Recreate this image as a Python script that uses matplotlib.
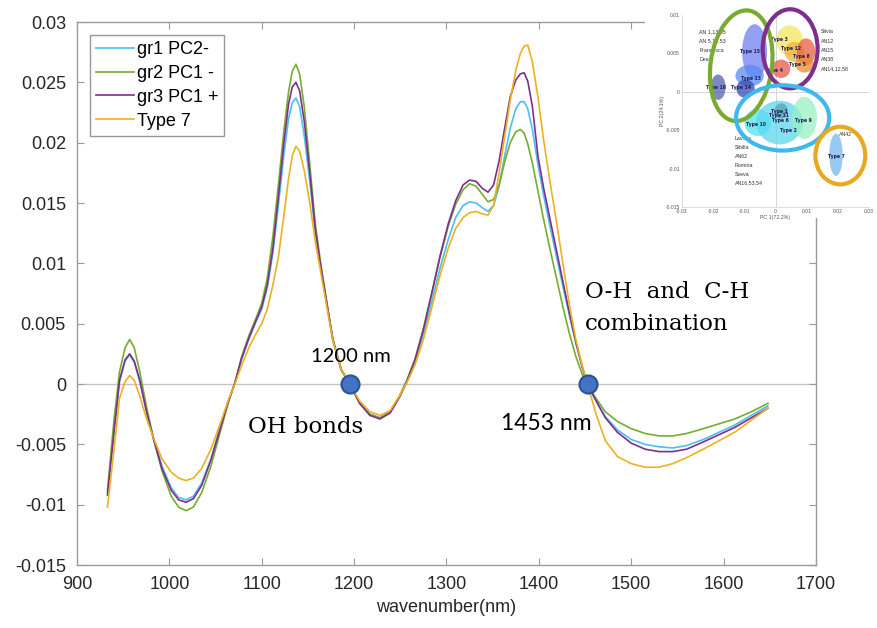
import matplotlib
matplotlib.use('Agg')
import matplotlib.pyplot as plt
from matplotlib.patches import Ellipse
from matplotlib.font_manager import fontManager

# ==========================================
# Datos: espectros (segunda derivada) por grupo
# ==========================================
wl = [933, 940, 946, 952, 957, 962, 968, 975, 983, 992,
      1002, 1010, 1018, 1026, 1035, 1045, 1055, 1064, 1071, 1078,
      1086, 1094, 1100, 1106, 1112, 1118, 1124, 1129, 1133, 1137,
      1141, 1146, 1152, 1158, 1164, 1170, 1177, 1186, 1196, 1206,
      1217, 1228, 1239, 1249, 1257, 1266, 1275, 1284, 1293, 1302,
      1310, 1318, 1325, 1332, 1339, 1345, 1351, 1357, 1363, 1369,
      1375, 1380, 1384, 1388, 1393, 1399, 1405, 1412, 1419, 1426,
      1433, 1440, 1447, 1453, 1462, 1472, 1485, 1500, 1515, 1530,
      1545, 1560, 1578, 1595, 1612, 1630, 1648]

gr1 = [-0.0090, -0.0040, 0.0002, 0.0019, 0.0024, 0.0018, 0.0002, -0.0022, -0.0045, -0.0068,
       -0.0086, -0.0094, -0.0096, -0.0093, -0.0082, -0.0062, -0.0036, -0.0014, 0.0001, 0.0020,
       0.0037, 0.0052, 0.0062, 0.0080, 0.0108, 0.0148, 0.0190, 0.0220, 0.0233, 0.0237,
       0.0230, 0.0206, 0.0168, 0.0125, 0.0096, 0.0068, 0.0036, 0.0012, -0.0001, -0.0015,
       -0.0025, -0.0028, -0.0023, -0.0011, 0.0001, 0.0018, 0.0041, 0.0068, 0.0096, 0.0120,
       0.0138, 0.0148, 0.0151, 0.0150, 0.0146, 0.0143, 0.0148, 0.0164, 0.0189, 0.0212,
       0.0228, 0.0234, 0.0234, 0.0228, 0.0211, 0.0182, 0.0157, 0.0131, 0.0106, 0.0081,
       0.0057, 0.0034, 0.0014, -0.0001, -0.0014, -0.0027, -0.0038, -0.0046, -0.0050, -0.0052,
       -0.0053, -0.0051, -0.0046, -0.0040, -0.0034, -0.0026, -0.0018]

gr2 = [-0.0088, -0.0030, 0.0010, 0.0030, 0.0037, 0.0030, 0.0010, -0.0018, -0.0046, -0.0072,
       -0.0093, -0.0102, -0.0105, -0.0102, -0.0090, -0.0068, -0.0040, -0.0015, 0.0001, 0.0022,
       0.0040, 0.0055, 0.0067, 0.0088, 0.0122, 0.0165, 0.0210, 0.0242, 0.0259, 0.0265,
       0.0257, 0.0230, 0.0182, 0.0133, 0.0099, 0.0070, 0.0037, 0.0012, -0.0001, -0.0016,
       -0.0025, -0.0028, -0.0023, -0.0010, 0.0003, 0.0021, 0.0046, 0.0075, 0.0105, 0.0131,
       0.0149, 0.0161, 0.0166, 0.0164, 0.0157, 0.0151, 0.0153, 0.0165, 0.0184, 0.0200,
       0.0209, 0.0211, 0.0208, 0.0199, 0.0183, 0.0160, 0.0137, 0.0112, 0.0088, 0.0064,
       0.0042, 0.0023, 0.0008, -0.0001, -0.0012, -0.0023, -0.0031, -0.0037, -0.0041, -0.0043,
       -0.0043, -0.0041, -0.0037, -0.0033, -0.0029, -0.0023, -0.0016]

gr3 = [-0.0092, -0.0040, 0.0003, 0.0020, 0.0025, 0.0019, 0.0003, -0.0022, -0.0046, -0.0070,
       -0.0088, -0.0096, -0.0098, -0.0095, -0.0084, -0.0063, -0.0037, -0.0014, 0.0001, 0.0021,
       0.0038, 0.0053, 0.0064, 0.0082, 0.0112, 0.0155, 0.0200, 0.0232, 0.0246, 0.0250,
       0.0243, 0.0218, 0.0175, 0.0128, 0.0097, 0.0069, 0.0037, 0.0012, -0.0001, -0.0016,
       -0.0026, -0.0029, -0.0024, -0.0011, 0.0002, 0.0020, 0.0045, 0.0075, 0.0106, 0.0133,
       0.0152, 0.0165, 0.0169, 0.0168, 0.0162, 0.0159, 0.0165, 0.0185, 0.0212, 0.0238,
       0.0252, 0.0257, 0.0258, 0.0251, 0.0230, 0.0189, 0.0163, 0.0137, 0.0111, 0.0085,
       0.0059, 0.0035, 0.0014, -0.0001, -0.0014, -0.0028, -0.0040, -0.0049, -0.0054, -0.0056,
       -0.0056, -0.0054, -0.0048, -0.0042, -0.0036, -0.0028, -0.0020]

type7 = [-0.0102, -0.0055, -0.0012, 0.0002, 0.0007, 0.0003, -0.0010, -0.0028, -0.0045, -0.0062,
         -0.0073, -0.0078, -0.0080, -0.0078, -0.0070, -0.0054, -0.0033, -0.0013, 0.0000, 0.0015,
         0.0030, 0.0042, 0.0050, 0.0062, 0.0082, 0.0105, 0.0140, 0.0170, 0.0189, 0.0197,
         0.0193, 0.0177, 0.0150, 0.0118, 0.0092, 0.0066, 0.0036, 0.0012, -0.0001, -0.0014,
         -0.0023, -0.0026, -0.0022, -0.0010, 0.0001, 0.0016, 0.0037, 0.0063, 0.0090, 0.0113,
         0.0129, 0.0138, 0.0142, 0.0143, 0.0141, 0.0140, 0.0148, 0.0175, 0.0205, 0.0235,
         0.0260, 0.0274, 0.0280, 0.0281, 0.0267, 0.0238, 0.0203, 0.0168, 0.0135, 0.0100,
         0.0066, 0.0037, 0.0015, -0.0001, -0.0025, -0.0047, -0.0060, -0.0066, -0.0069, -0.0069,
         -0.0066, -0.0061, -0.0054, -0.0047, -0.0040, -0.0030, -0.0020]

series_names = ['gr1 PC2-', 'gr2 PC1 -', 'gr3 PC1 +', 'Type 7']
series_data = [gr1, gr2, gr3, type7]
series_colors = ['#4dbeee', '#77ac30', '#7e2f8e', '#edb120']

# puntos marcados
mark_wl = [1196, 1453]
mark_val = [0.0, 0.0]

xticks = [900, 1000, 1100, 1200, 1300, 1400, 1500, 1600, 1700]
yticks = [-0.015, -0.01, -0.005, 0, 0.005, 0.01, 0.015, 0.02, 0.025, 0.03]
ytick_labels = ['-0.015', '-0.01', '-0.005', '0', '0.005', '0.01', '0.015', '0.02', '0.025', '0.03']

# ==========================================
# Datos del inserto (PCA)
# ==========================================
blob_x = [-0.0184, -0.0067, -0.0083, -0.0096, 0.0045, 0.0061, 0.0098, 0.0093,
          0.0018, -0.0057, 0.0013, 0.0093, 0.0018, 0.0194]
blob_y = [0.0006, 0.0052, 0.0021, 0.0004, 0.0067, 0.0052, 0.0052, 0.0036,
          0.0030, -0.0040, -0.0040, -0.0034, -0.0025, -0.0082]
blob_w = [0.0048, 0.0080, 0.0091, 0.0059, 0.0085, 0.0064, 0.0059, 0.0059,
          0.0059, 0.0085, 0.0150, 0.0080, 0.0043, 0.0043]
blob_h = [0.0033, 0.0072, 0.0028, 0.0024, 0.0039, 0.0026, 0.0035, 0.0022,
          0.0024, 0.0035, 0.0057, 0.0055, 0.0020, 0.0055]
blob_colors = ['#5660b0', '#6f7ff0', '#5a8cf0', '#3a48b8', '#f2e65a', '#f5b040', '#e86040', '#f08a30',
               '#e85848', '#50e4f0', '#5cd8ee', '#98f0c4', '#5f9fb0', '#74b8f0']

type_labels = ['Type 16', 'Type 15', 'Type 13', 'Type 14', 'Type 3', 'Type 12', 'Type 8', 'Type 5',
               'Type 4', 'Type 10', 'Type 2', 'Type 9', 'Type 1', 'Type 11', 'Type 6', 'Type 7']
label_x = [-0.0190, -0.0083, -0.0078, -0.0110, 0.0013, 0.0050, 0.0082, 0.0070,
           -0.0003, -0.0062, 0.0043, 0.0088, 0.0013, 0.0011, 0.0015, 0.0194]
label_y = [0.0005, 0.0053, 0.0017, 0.0005, 0.0068, 0.0056, 0.0046, 0.0036,
           0.0028, -0.0042, -0.0050, -0.0038, -0.0025, -0.0031, -0.0038, -0.0084]

ring_x = [-0.0110, 0.0047, 0.0023, 0.0208]
ring_y = [0.0034, 0.0056, -0.0034, -0.0083]
ring_w = [0.0197, 0.0176, 0.0299, 0.0160]
ring_h = [0.0145, 0.0103, 0.0085, 0.0075]
ring_angle = [-8, 0, 0, 0]
ring_colors = ['#77ac30', '#7e2f8e', '#3fb8ec', '#e8a820']

left_names = ['AN 1,13,55', 'AN 5,15,53', 'Francesca', 'Dea']
right_names = ['Silvia', 'AN12', 'AN15', 'AN38', 'AN14,12,58']
bottom_names = ['Lavinia', 'Sibilla', 'AN62', 'Romina', 'Sveva', 'AN16,53,54']

# fuentes
fams = [f.name for f in fontManager.ttflist]
narrow = 'Liberation Sans Narrow' if 'Liberation Sans Narrow' in fams else 'Liberation Sans'
tick_size = 15.5 if narrow == 'Liberation Sans Narrow' else 13
plt.rcParams['font.family'] = [narrow, 'DejaVu Sans']

# ==========================================
# GRÁFICO principal
# ==========================================
fig = plt.figure(figsize=(8.77, 6.28), dpi=100)
ax = fig.add_axes([0.0878, 0.1003, 0.8426, 0.8646])

ax.axhline(0, color='#c4c4c4', lw=1.0, zorder=1)
for name, vals, col in zip(series_names, series_data, series_colors):
    ax.plot(wl, vals, color=col, lw=1.2, label=name, zorder=2)

ax.plot(mark_wl, mark_val, 'o', ms=13, mfc='#4472c4', mec='#2f528f', mew=1.5, zorder=5)

ax.set_xlim(900, 1700)
ax.set_ylim(-0.015, 0.03)
ax.set_xticks(xticks)
ax.set_yticks(yticks)
ax.set_yticklabels(ytick_labels)
ax.tick_params(direction='in', length=5, top=True, right=True, labelsize=tick_size,
               colors='#9a9a9a', labelcolor='#262626', pad=8)
for s in ax.spines.values():
    s.set_color('#9a9a9a')
    s.set_linewidth(1.0)
ax.set_xlabel('wavenumber(nm)', fontsize=tick_size, color='#262626', labelpad=4)

leg = ax.legend(loc='upper left', bbox_to_anchor=(0.0, 1.0), fontsize=tick_size,
                frameon=True, fancybox=False, edgecolor='#7f7f7f', handlelength=2.1,
                handletextpad=0.15, borderpad=0.35, labelspacing=0.38, borderaxespad=0.7)
leg.get_frame().set_linewidth(1.0)

ax.text(1196, 0.0023, '1200 nm', family=['Lato', 'DejaVu Sans'], fontsize=14.5,
        ha='center', va='center', color='black')
ax.text(1147, -0.0036, 'OH bonds', family='DejaVu Serif', fontsize=16.5,
        ha='center', va='center', color='black')
ax.text(1408, -0.0033, '1453 nm', family=['Lato', 'DejaVu Sans'], fontsize=16.5,
        ha='center', va='center', color='black')
ax.text(1450, 0.0063, 'O-H  and  C-H\ncombination', family='DejaVu Serif', fontsize=16.5,
        ha='left', va='center', color='black', linespacing=1.55)

# ==========================================
# Inserto PCA
# ==========================================
cover = fig.add_axes([645 / 877, 1 - 218 / 628, 232 / 877, 218 / 628])
cover.set_facecolor('white')
cover.set_xticks([])
cover.set_yticks([])
for s in cover.spines.values():
    s.set_visible(False)

ins = fig.add_axes([682 / 877, 1 - 207 / 628, 187 / 877, 192 / 628])
ins.set_xlim(-0.03, 0.03)
ins.set_ylim(-0.015, 0.01)
ins.axhline(0, color='#d0d0d0', lw=0.6, zorder=0)
ins.axvline(0, color='#d0d0d0', lw=0.6, zorder=0)
ins.set_xticks([-0.03, -0.02, -0.01, 0, 0.01, 0.02, 0.03])
ins.set_xticklabels(['-0.03', '-0.02', '-0.01', '0', '0.01', '0.02', '0.03'])
ins.set_yticks([-0.015, -0.01, -0.005, 0, 0.005, 0.01])
ins.set_yticklabels(['-0.015', '-0.01', '-0.005', '0', '0.005', '0.01'])
ins.tick_params(length=0, labelsize=3.6, labelcolor='#555555', pad=1.5)
for side in ['top', 'right']:
    ins.spines[side].set_visible(False)
for side in ['left', 'bottom']:
    ins.spines[side].set_color('#d8d8d8')
    ins.spines[side].set_linewidth(0.6)
ins.set_xlabel('PC 1(72.2%)', fontsize=3.8, color='#555555', labelpad=0.5)
ins.set_ylabel('PC 2(24.1%)', fontsize=3.8, color='#555555', labelpad=0.5)

for i, name in enumerate(left_names):
    ins.text(-0.0245, 0.0078 - i * 0.0012, name, fontsize=3.8, color='#333333', va='center', zorder=1)
for i, name in enumerate(right_names):
    ins.text(0.0146, 0.0078 - i * 0.0012, name, fontsize=3.8, color='#333333', va='center', zorder=1)
for i, name in enumerate(bottom_names):
    ins.text(-0.0131, -0.0061 - i * 0.00116, name, fontsize=3.8, color='#333333', va='center', zorder=1)
ins.text(0.0205, -0.0056, 'AN42', fontsize=3.8, color='#333333', va='center', zorder=1)

for x, y, w, h, c in zip(blob_x, blob_y, blob_w, blob_h, blob_colors):
    ins.add_patch(Ellipse((x, y), w, h, facecolor=c, edgecolor='none', alpha=0.75, zorder=2))
for name, x, y in zip(type_labels, label_x, label_y):
    ins.text(x, y, name, fontsize=3.3, fontweight='bold', color='#1c2455',
             ha='center', va='center', zorder=4, family='DejaVu Sans')

for x, y, w, h, a, c in zip(ring_x, ring_y, ring_w, ring_h, ring_angle, ring_colors):
    cx, cy = ins.transLimits.transform((x, y))
    ins.add_patch(Ellipse((cx, cy), w / 0.06, h / 0.025, angle=a, facecolor='none',
                          edgecolor=c, lw=3.0, transform=ins.transAxes, zorder=5,
                          clip_on=False))

plt.savefig('out.png', dpi=100)
